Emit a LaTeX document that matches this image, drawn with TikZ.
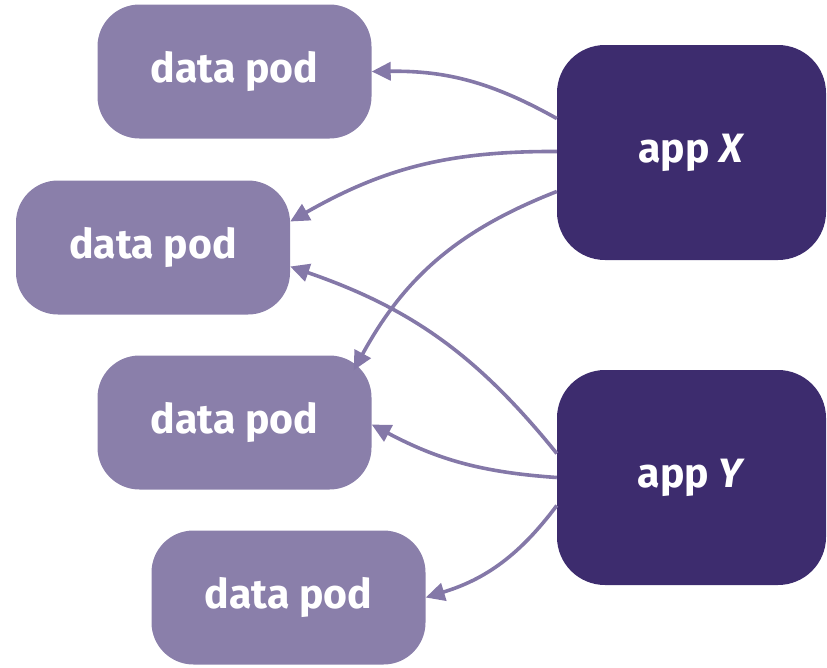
\documentclass[tikz,border=0pt]{standalone}
\usepackage{fontspec}
\setmainfont{Fira Sans}
\usetikzlibrary{arrows.meta}
\definecolor{podfill}{HTML}{8A7FAA}
\definecolor{appfill}{HTML}{3D2C6E}
\definecolor{linkcol}{HTML}{8478A8}
\begin{document}
\begin{tikzpicture}[x=1pt,y=-1pt,
  pod/.style={draw=none,fill=podfill,rounded corners=42pt,minimum width=274pt,minimum height=134pt,
    text=white,font=\fontsize{41}{48}\selectfont\bfseries,inner sep=0pt},
  app/.style={draw=none,fill=appfill,rounded corners=48pt,minimum width=269pt,minimum height=215pt,
    text=white,font=\fontsize{41}{48}\selectfont\bfseries,inner sep=0pt},
  link/.style={draw=linkcol,line width=3.6pt,-{Triangle[length=19pt,width=18pt]}}]
\useasboundingbox (0,0) rectangle (827,667);
\node[pod] (p1) at (234.5,71.5) {data pod};
\node[pod] (p2) at (153,247.5) {data pod};
\node[pod] (p3) at (234.5,422.5) {data pod};
\node[pod] (p4) at (288.5,597.5) {data pod};
\node[app] (ax) at (691.5,152.5) {app \textit{X}};
\node[app] (ay) at (691.5,477.5) {app \textit{Y}};
\draw[link] ([yshift=34pt]ax.west) to[bend right=15] (p1.east);
\draw[link] ([yshift=1pt]ax.west) to[bend right=15] ([yshift=26pt]p2.east);
\draw[link] ([yshift=-39pt]ax.west) to[bend right=20] ([xshift=-18pt,yshift=-15pt]p3.north east);
\draw[link] ([yshift=24pt]ay.west) to[bend right=16] ([yshift=-19pt]p2.east);
\draw[link] (ay.west) to[bend left=12] ([yshift=-2pt]p3.east);
\draw[link] ([yshift=-28pt]ay.west) to[bend left=18] (p4.east);
\end{tikzpicture}
\end{document}
